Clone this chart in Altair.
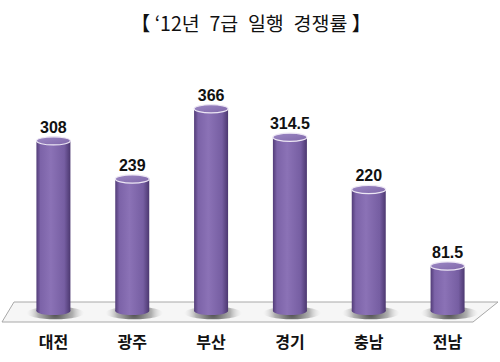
import altair as alt
import pandas as pd

regions = ["대전", "광주", "부산", "경기", "충남", "전남"]
values = [308, 239, 366, 314.5, 220, 81.5]
value_labels = ["308", "239", "366", "314.5", "220", "81.5"]
title_text = "【 ‘12년\u20027급\u2002일행\u2002경쟁률 】"

df = pd.DataFrame({"region": regions, "value": values, "label": value_labels})
df["zero"] = 0

W, H = 473, 311
xs = alt.X("region:N", sort=regions, axis=None,
           scale=alt.Scale(paddingInner=0, paddingOuter=0))
ys = alt.Y("value:Q", axis=None, scale=alt.Scale(domain=[0, 563], nice=False))
y0 = alt.Y("zero:Q", axis=None, scale=alt.Scale(domain=[0, 563], nice=False))

body_grad = alt.Gradient(
    gradient="linear", x1=0, x2=1, y1=0, y2=0,
    stops=[
        alt.GradientStop(offset=0.0, color="#523c78"),
        alt.GradientStop(offset=0.12, color="#7c63a8"),
        alt.GradientStop(offset=0.42, color="#8b72b6"),
        alt.GradientStop(offset=0.82, color="#765ea2"),
        alt.GradientStop(offset=1.0, color="#4c3870"),
    ],
)
top_grad = alt.Gradient(
    gradient="linear", x1=0, x2=1, y1=0, y2=1,
    stops=[
        alt.GradientStop(offset=0.0, color="#9c88c4"),
        alt.GradientStop(offset=1.0, color="#8068aa"),
    ],
)
shadow_grad = alt.Gradient(
    gradient="radial", x1=0.5, y1=0.5, r1=0, x2=0.5, y2=0.5, r2=0.5,
    stops=[
        alt.GradientStop(offset=0.0, color="rgba(40,40,40,0.85)"),
        alt.GradientStop(offset=0.6, color="rgba(90,90,90,0.45)"),
        alt.GradientStop(offset=1.0, color="rgba(200,200,200,0)"),
    ],
)

ellipse = "M -1 0 A 1 0.24 0 1 1 1 0 A 1 0.24 0 1 1 -1 0 Z"
shadow_shape = "M -1 0 A 1 0.22 0 1 1 1 0 A 1 0.22 0 1 1 -1 0 Z"
floor_shape = "M 0 302 L 484 302 L 459 322 L -12 322 Z"

one = pd.DataFrame({"a": [0]})

floor = alt.Chart(one).mark_point(
    shape=floor_shape, size=4, filled=True, opacity=1,
    fill="#f6f6f6", stroke="#a8a8a8", strokeWidth=1,
).encode(x=alt.value(0), y=alt.value(0))

base = alt.Chart(df)

shadow = base.mark_point(
    shape=shadow_shape, size=3300, filled=True, opacity=1,
    fill=shadow_grad, strokeWidth=0, yOffset=2, xOffset=2,
).encode(x=xs, y=y0)

bottom = base.mark_point(
    shape=ellipse, size=1156, filled=True, opacity=1,
    fill=body_grad, strokeWidth=0,
).encode(x=xs, y=y0)

body = base.mark_bar(size=34, fill=body_grad, opacity=1).encode(
    x=xs, y=ys, y2=alt.Y2("zero:Q")
)

top = base.mark_point(
    shape=ellipse, size=1156, filled=True, opacity=1,
    fill=top_grad, stroke="#ece6f4", strokeWidth=1.2,
).encode(x=xs, y=ys)

vlabels = base.mark_text(
    font="Liberation Sans", fontSize=16, fontWeight="bold",
    color="#111111", baseline="alphabetic", dy=-8,
).encode(x=xs, y=ys, text="label:N")

clabels = base.mark_text(
    font="Noto Sans CJK KR", fontSize=16, fontWeight="bold",
    color="#111111", baseline="alphabetic",
).encode(x=xs, y=alt.value(348), text="region:N")

title = alt.Chart(one).mark_text(
    text=title_text, font="Noto Sans CJK KR", fontSize=19.5,
    color="#111111", baseline="middle", align="center",
).encode(x=alt.value(237), y=alt.value(25))

chart = alt.layer(floor, shadow, bottom, body, top, vlabels, clabels, title).properties(
    width=W, height=H,
    autosize=alt.AutoSizeParams(type="none"),
    padding={"left": 14, "right": 13, "top": 0, "bottom": 51},
    background="white",
).configure_view(stroke=None)

chart.save("out.html", embed_options={"renderer": "svg", "actions": False})
